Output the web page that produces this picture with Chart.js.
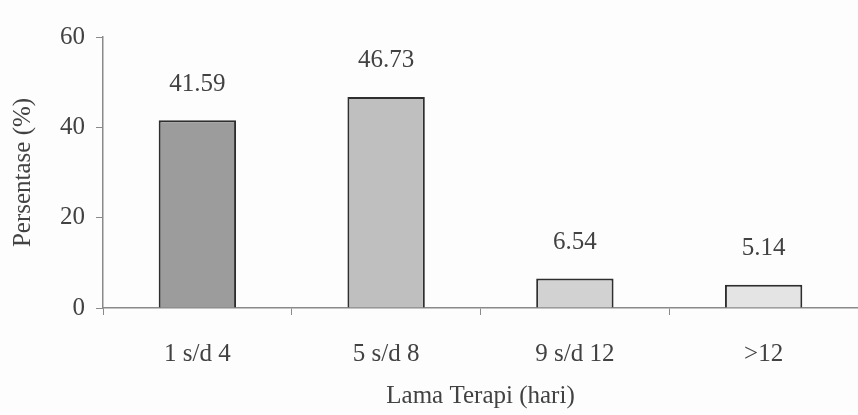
<!DOCTYPE html>
<html>
<head>
<meta charset="utf-8">
<script src="https://cdn.jsdelivr.net/npm/chart.js@4"></script>
<style>
  html, body { margin: 0; padding: 0; background: #fdfdfd; }
  #wrap { width: 858px; height: 415px; }
</style>
</head>
<body>
<div id="wrap"><canvas id="grafico"></canvas></div>
<script>
// datos
const kategori = ["1 s/d 4", "5 s/d 8", "9 s/d 12", ">12"];
const persentase = [41.59, 46.73, 6.54, 5.14];
const warnaBatang = ["#9c9c9c", "#bfbfbf", "#d2d2d2", "#e4e4e4"];
const yTicks = [0, 20, 40, 60];

const fuente = "'Liberation Serif', 'Times New Roman', serif";
const colorTexto = "#424242";

// etiquetas de valor sobre las barras
const labelPlugin = {
  id: "labelNilai",
  afterDatasetsDraw(chart) {
    const ctx = chart.ctx;
    const meta = chart.getDatasetMeta(0);
    ctx.save();
    ctx.font = "25px " + fuente;
    ctx.fillStyle = colorTexto;
    ctx.textAlign = "center";
    ctx.textBaseline = "middle";
    meta.data.forEach(function (bar, i) {
      ctx.fillText(persentase[i].toFixed(2), bar.x, bar.y - 36);
    });
    ctx.restore();
  },
};

var ctx = document.getElementById("grafico").getContext("2d");

var grafico = new Chart(ctx, {
  type: "bar",
  data: {
    labels: kategori,
    datasets: [
      {
        data: persentase,
        backgroundColor: warnaBatang,
        borderColor: "#2e2e2e",
        borderWidth: 2,
        barPercentage: 0.82,
        categoryPercentage: 0.5,
      },
    ],
  },
  options: {
    responsive: true,
    maintainAspectRatio: false,
    animation: false,
    layout: { padding: { top: 37, right: 0, bottom: 0, left: 0 } },
    plugins: {
      legend: { display: false },
      tooltip: { enabled: false },
    },
    scales: {
      x: {
        offset: true,
        grid: {
          offset: true,
          drawOnChartArea: false,
          drawTicks: true,
          tickLength: 7,
          color: "#8a8a8a",
        },
        border: { color: "#8a8a8a", width: 1.5 },
        ticks: {
          color: colorTexto,
          font: { family: fuente, size: 25 },
          padding: 24,
        },
        title: {
          display: true,
          text: "Lama Terapi (hari)",
          color: colorTexto,
          font: { family: fuente, size: 25 },
          padding: { top: 0, bottom: 4 },
        },
        afterFit: function (scale) {
          scale.height = 107;
        },
      },
      y: {
        min: 0,
        max: 60,
        afterBuildTicks: function (scale) {
          scale.ticks = yTicks.map(function (v) {
            return { value: v };
          });
        },
        grid: {
          drawOnChartArea: false,
          drawTicks: true,
          tickLength: 7,
          color: "#8a8a8a",
        },
        border: { color: "#8a8a8a", width: 1.5 },
        ticks: {
          color: colorTexto,
          font: { family: fuente, size: 25 },
          padding: 11,
        },
        title: {
          display: true,
          text: "Persentase (%)",
          color: colorTexto,
          font: { family: fuente, size: 25 },
          padding: { top: 8, bottom: 0 },
        },
        afterFit: function (scale) {
          scale.width = 103;
        },
      },
    },
  },
  plugins: [labelPlugin],
});
</script>
</body>
</html>
